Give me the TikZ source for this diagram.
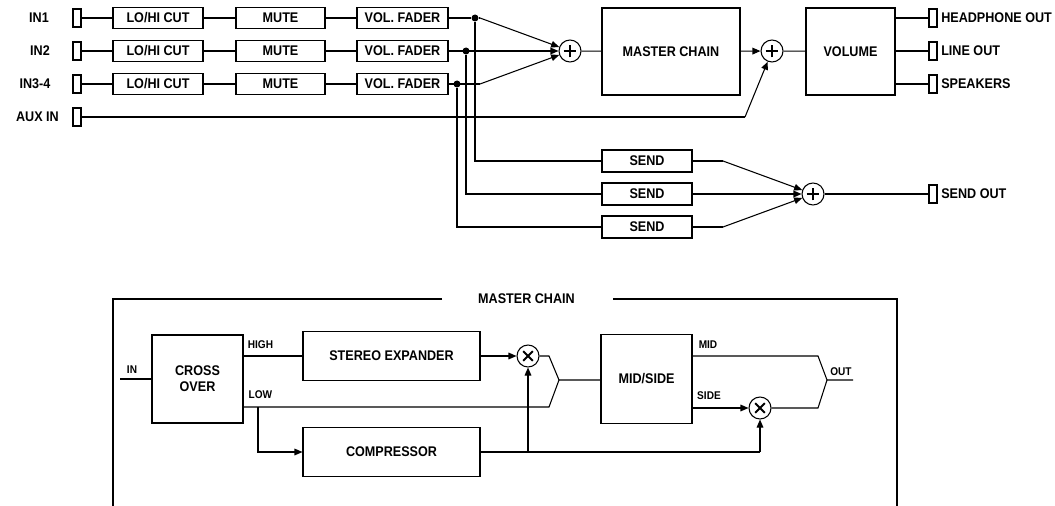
\documentclass[tikz,border=0pt]{standalone}
\usepackage{fontspec}
\setmainfont{Liberation Sans}[FakeStretch=0.9]
\usetikzlibrary{arrows.meta,calc}
\tikzset{
  wire/.style={line width=0.8pt},
  arr/.style={wire,-{Triangle[length=6pt,width=5pt]}},
  box/.style={draw,line width=0.8pt,inner sep=0pt,align=center,
    font=\bfseries\fontsize{10.5}{12}\selectfont},
  jack/.style={draw,line width=0.8pt,inner sep=0pt,minimum width=6pt,minimum height=13.5pt},
  lbl/.style={inner sep=0pt,font=\bfseries\fontsize{10.5}{12}\selectfont},
  slbl/.style={inner sep=0pt,font=\bfseries\fontsize{8.4}{10}\selectfont},
  dot/.style={circle,fill,inner sep=0pt,minimum size=5.25pt},
  sumnode/.style={circle,draw,line width=0.8pt,inner sep=0pt,minimum size=16.5pt,
    path picture={\draw[line width=1.5pt]
      (path picture bounding box.center) ++(-4.8pt,0) -- ++(9.6pt,0)
      (path picture bounding box.center) ++(0,-4.8pt) -- ++(0,9.6pt);}},
  mulnode/.style={circle,draw,line width=0.8pt,inner sep=0pt,minimum size=16.5pt,
    path picture={\draw[line width=1.5pt]
      (path picture bounding box.center) ++(-3.6pt,-3.6pt) -- ++(7.2pt,7.2pt)
      (path picture bounding box.center) ++(-3.6pt,3.6pt) -- ++(7.2pt,-7.2pt);}},
}
\begin{document}
\begin{tikzpicture}[x=0.75pt,y=-0.75pt]
\useasboundingbox (0,0) rectangle (1055,506);

% ---------- input labels and jacks ----------
\node[lbl] (l1) at (39,18) {IN1};
\node[lbl] (l2) at (40,51) {IN2};
\node[lbl] (l3) at (35,84) {IN3-4};
\node[lbl] (l4) at (37.5,117) {AUX IN};
\node[jack] (j1) at (77,18) {};
\node[jack] (j2) at (77,51) {};
\node[jack] (j3) at (77,84) {};
\node[jack] (ja) at (77,117) {};

% ---------- channel strips ----------
\foreach \i/\y in {1/18,2/51,3/84}{
  \node[box,minimum width=67.5pt,minimum height=15.75pt] (lh\i) at (158,\y) {LO/HI CUT};
  \node[box,minimum width=66.75pt,minimum height=15.75pt] (mu\i) at (280.5,\y) {MUTE};
  \node[box,minimum width=68.25pt,minimum height=15.75pt] (vf\i) at (402.5,\y) {VOL. FADER};
  \draw[wire] (j\i) -- (lh\i);
  \draw[wire] (lh\i) -- (mu\i);
  \draw[wire] (mu\i) -- (vf\i);
}
\node[dot] (d1) at (475,18) {};
\node[dot] (d2) at (466,51) {};
\node[dot] (d3) at (457,84) {};

% ---------- main sum ----------
\node[sumnode] (s1) at (570,51) {};
\node[box,minimum width=103.5pt,minimum height=65.25pt] (mc) at (671,51.5) {MASTER CHAIN};
\node[sumnode] (s2) at (772,51) {};
\node[box,minimum width=66.75pt,minimum height=65.25pt] (vol) at (850.5,51.5) {VOLUME};

\coordinate (k1) at (480,18);
\coordinate (k3) at (480,84);
\draw[wire] (vf1) -- (d1) -- (k1);
\draw[arr] (k1) -- (s1);
\draw[arr] (vf2) -- (s1);
\draw[wire] (vf3) -- (k3);
\draw[arr] (k3) -- (s1);
\draw[wire] (s1) -- (mc);
\draw[arr] (mc) -- (s2);
\draw[wire] (s2) -- (vol);

\coordinate (ka) at (745,117);
\draw[wire] (ja) -- (ka);
\draw[arr] (ka) -- (s2);

% ---------- outputs ----------
\node[jack] (jh) at (933,18) {};
\node[jack] (jl) at (933,51) {};
\node[jack] (jsp) at (933,84) {};
\node[lbl,anchor=west] (th) at (941,18) {HEADPHONE OUT};
\node[lbl,anchor=west] (tl) at (941,51) {LINE OUT};
\node[lbl,anchor=west] (tsp) at (941,84) {SPEAKERS};
\draw[wire] (vol.east |- jh) -- (jh);
\draw[wire] (vol.east |- jl) -- (jl);
\draw[wire] (vol.east |- jsp) -- (jsp);

% ---------- sends ----------
\node[box,minimum width=67.5pt,minimum height=16.5pt] (sd1) at (647,161) {SEND};
\node[box,minimum width=67.5pt,minimum height=16.5pt] (sd2) at (647,194) {SEND};
\node[box,minimum width=67.5pt,minimum height=16.5pt] (sd3) at (647,227) {SEND};
\draw[wire] (d1) |- (sd1);
\draw[wire] (d2) |- (sd2);
\draw[wire] (d3) |- (sd3);
\node[sumnode] (ss) at (813,194) {};
\coordinate (q1) at (723,161);
\coordinate (q3) at (723,227);
\draw[wire] (sd1) -- (q1);
\draw[arr] (q1) -- (ss);
\draw[arr] (sd2) -- (ss);
\draw[wire] (sd3) -- (q3);
\draw[arr] (q3) -- (ss);
\node[jack] (jo) at (933,194) {};
\node[lbl,anchor=west] (to) at (941,194) {SEND OUT};
\draw[wire] (ss) -- (jo);

% ---------- master chain detail ----------
\node[lbl] (mct) at (526.5,299) {MASTER CHAIN};
\draw[wire] (442,299) -- (113,299) -- (113,506);
\draw[wire] (613,299) -- (897,299) -- (897,506);

\node[box,minimum width=68.25pt,minimum height=66pt] (co) at (197.5,379) {CROSS\\OVER};
\node[box,minimum width=132.75pt,minimum height=36.75pt] (se) at (391.5,356) {STEREO EXPANDER};
\node[box,minimum width=132.75pt,minimum height=36.75pt] (cp) at (391.5,452) {COMPRESSOR};
\node[box,minimum width=68.25pt,minimum height=66.75pt] (ms) at (646.5,379) {MID/SIDE};
\node[mulnode] (m1) at (528,356) {};
\node[mulnode] (m2) at (760,408) {};

\coordinate (cin) at (120,379);
\node[slbl] (tin) at (132,370) {IN};
\draw[wire] (cin) -- (co);

\node[slbl] (thi) at (260.5,345) {HIGH};
\node[slbl] (tlo) at (260.5,394.5) {LOW};
\draw[wire] (co.east |- se) -- (se);
\draw[arr] (se) -- (m1);

\coordinate (lo1) at (243,407);
\coordinate (lo2) at (549,407);
\coordinate (hi2) at (549,356);
\coordinate (mg) at (559,380);
\coordinate (br) at (258,407);
\draw[wire] (lo1) -- (lo2) -- (mg);
\draw[wire] (m1) -- (hi2) -- (mg) -- (ms.west |- mg);
\draw[arr] (br) |- (cp);

\coordinate (ce) at (760,452);
\coordinate (c1) at (528,452);
\draw[wire] (cp) -- (ce);
\draw[arr] (c1) -- (m1);
\draw[arr] (ce) -- (m2);

\node[slbl] (tmid) at (708,344.5) {MID};
\node[slbl] (tside) at (709,395.5) {SIDE};
\node[slbl] (tout) at (841,372) {OUT};
\coordinate (mo1) at (692,356);
\coordinate (mo2) at (818,356);
\coordinate (om) at (827,380);
\coordinate (oe) at (853,380);
\coordinate (so1) at (692,408);
\coordinate (so2) at (818,408);
\draw[wire] (mo1) -- (mo2) -- (om) -- (oe);
\draw[arr] (so1) -- (m2);
\draw[wire] (m2) -- (so2) -- (om);
\end{tikzpicture}
\end{document}
